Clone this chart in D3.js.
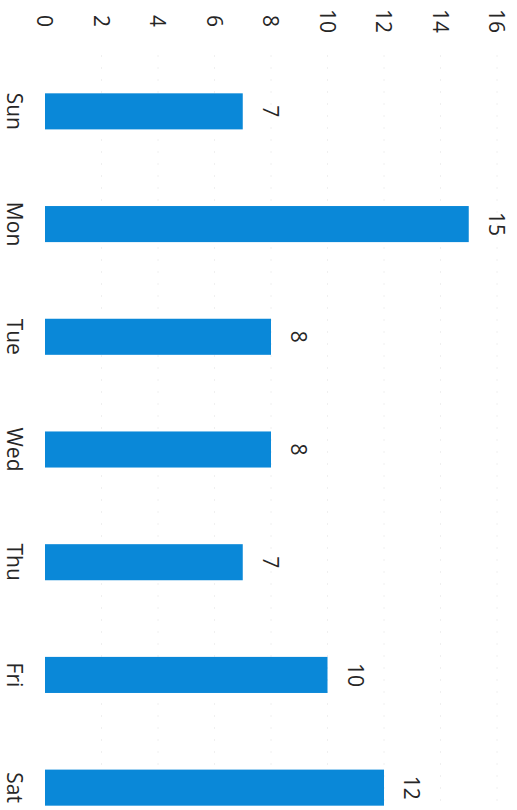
<!DOCTYPE html>
<html>
<head>
<meta charset="utf-8">
<script src="https://cdn.jsdelivr.net/npm/d3@7"></script>
<style>
  html, body { margin: 0; padding: 0; background: #fff; }
  svg { display: block; }
  text { font-family: "Open Sans", "Noto Sans", sans-serif; fill: #262626; }
</style>
</head>
<body>
<svg id="chart" width="517" height="810"></svg>
<script>
// Weekly counts, drawn as a column chart turned a quarter turn clockwise
const days = ["Sun", "Mon", "Tue", "Wed", "Thu", "Fri", "Sat"];
const counts = [7, 15, 8, 8, 7, 10, 12];
const tickValues = [0, 2, 4, 6, 8, 10, 12, 14, 16];

const W = 517, H = 810;
const svg = d3.select("#chart");

// value axis runs left -> right, categories run top -> bottom
const x = d3.scaleLinear().domain([0, 16]).range([45, 497]);
const y = d3.scaleBand().domain(days).range([55, 844])
  .paddingInner(0.68).paddingOuter(0.34);

const fs = 21;

// faint dotted gridlines
svg.append("g").selectAll("line")
  .data(tickValues.filter(v => v > 0))
  .join("line")
  .attr("x1", d => x(d)).attr("x2", d => x(d))
  .attr("y1", 55).attr("y2", H)
  .attr("stroke", "#f0f0f0")
  .attr("stroke-width", 1)
  .attr("stroke-dasharray", "2,10");

// value tick labels along the top, rotated
svg.append("g").selectAll("text")
  .data(tickValues)
  .join("text")
  .attr("transform", d => `translate(${x(d)},21) rotate(90)`)
  .attr("text-anchor", "middle")
  .attr("dy", "0.36em")
  .style("font-size", fs + "px")
  .text(d => d);

// bars
svg.append("g").selectAll("rect")
  .data(days)
  .join("rect")
  .attr("x", x(0))
  .attr("y", d => y(d))
  .attr("width", (d, i) => x(counts[i]) - x(0))
  .attr("height", y.bandwidth())
  .attr("fill", "#0a88d8");

// category labels on the left
svg.append("g").selectAll("text")
  .data(days)
  .join("text")
  .attr("transform", d => `translate(15,${y(d) + y.bandwidth() / 2}) rotate(90)`)
  .attr("text-anchor", "middle")
  .attr("dy", "0.36em")
  .style("font-size", fs + "px")
  .text(d => d);

// value labels past the bar ends
svg.append("g").selectAll("text")
  .data(days)
  .join("text")
  .attr("transform", (d, i) => `translate(${x(counts[i]) + 28},${y(d) + y.bandwidth() / 2}) rotate(90)`)
  .attr("text-anchor", "middle")
  .attr("dy", "0.36em")
  .style("font-size", fs + "px")
  .text((d, i) => counts[i]);
</script>
</body>
</html>
